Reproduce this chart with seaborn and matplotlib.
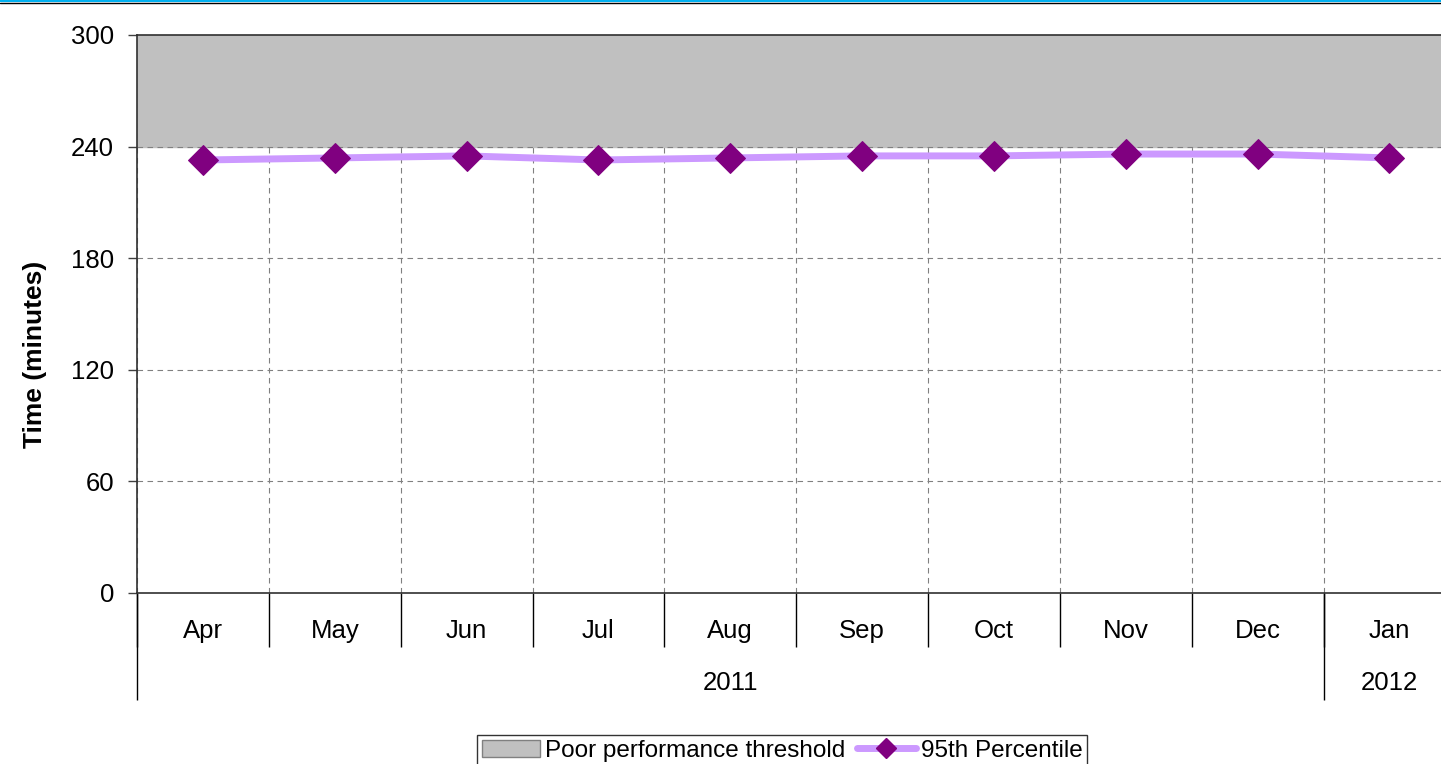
import numpy as np
import pandas as pd
import seaborn as sns
import matplotlib.pyplot as plt
from matplotlib.patches import Patch
from matplotlib.lines import Line2D

# dados
meses = ["Apr", "May", "Jun", "Jul", "Aug", "Sep", "Oct", "Nov", "Dec", "Jan"]
anos = ["2011", "2012"]
percentil_95 = [232.8, 233.9, 235.0, 232.8, 233.9, 235.0, 235.0, 236.0, 236.0, 233.9]
limite_inferior = 240
limite_superior = 300
y_ticks = [0, 60, 120, 180, 240, 300]

sns.set_style("white")
plt.rcParams['font.family'] = ['Liberation Sans', 'DejaVu Sans']
plt.rcParams['text.color'] = 'black'
plt.rcParams['axes.labelcolor'] = 'black'
plt.rcParams['xtick.color'] = 'black'
plt.rcParams['ytick.color'] = 'black'

df = pd.DataFrame({"pos": np.arange(len(meses)), "valor": percentil_95})

fig = plt.figure(figsize=(14.41, 7.64), dpi=100)
ax = fig.add_axes([137 / 1441, 1 - 593 / 764, 1 - 137 / 1441 + 0.01, 558 / 764])

# zona de mau desempenho
ax.axhspan(limite_inferior, limite_superior, color="#C0C0C0", zorder=1.5)

sns.lineplot(data=df, x="pos", y="valor", ax=ax, color="#CC99FF", linewidth=5,
             marker="D", markersize=15, markerfacecolor="#800080",
             markeredgecolor="#800080", zorder=3)

ax.set_xlim(-0.5, len(meses) - 0.5)
ax.set_ylim(0, 300)
ax.set_yticks(y_ticks)
ax.tick_params(axis="y", labelsize=18.5, length=6.5, width=1, color="#404040", pad=10, left=True)

# eixo x: meses
ax.set_xticks(np.arange(len(meses)), labels=meses)
ax.set_xticks(np.arange(-0.5, len(meses)), minor=True)
ax.tick_params(axis="x", which="major", length=0, labelsize=18.5, pad=19)
ax.tick_params(axis="x", which="minor", length=39, width=1, color="black", bottom=True)
ax.set_xlabel("")
ax.set_ylabel("Time (minutes)", fontsize=19, fontweight="bold")
ax.yaxis.set_label_coords(-0.068, 0.428)

# grelha
ax.grid(False)
for y in y_ticks[1:-1]:
    ax.axhline(y, color="#808080", linestyle=(0, (5, 4)), linewidth=0.8, zorder=2)
ax.grid(which="minor", axis="x", color="#808080", linestyle=(0, (5, 4)), linewidth=0.8)
ax.set_axisbelow(True)

for s in ["top", "left", "bottom"]:
    ax.spines[s].set_visible(True)
    ax.spines[s].set_color("#303030")
    ax.spines[s].set_linewidth(1.2)
ax.spines["right"].set_visible(False)

# eixo x: anos
sec = ax.secondary_xaxis("bottom")
sec.set_xticks([-0.5, 8.5])
sec.set_xticklabels(["", ""])
sec.set_xticks([4, 9], labels=anos, minor=True)
sec.tick_params(axis="x", which="major", length=77, width=1, color="black")
sec.tick_params(axis="x", which="minor", length=0, labelsize=18.5, pad=56)
sec.spines["bottom"].set_visible(False)

# legenda
handles = [
    Patch(facecolor="#C0C0C0", edgecolor="#808080", label="Poor performance threshold"),
    Line2D([0], [0], color="#CC99FF", linewidth=5, marker="D", markersize=10,
           markerfacecolor="#800080", markeredgecolor="#800080", label="95th Percentile"),
]
fig.legend(handles=handles, loc="upper center", bbox_to_anchor=(782 / 1441, 1 - 735 / 764),
           ncol=2, frameon=True, fancybox=False, edgecolor="black", fontsize=17.5,
           handlelength=2.4, handletextpad=0.2, columnspacing=0.5, borderpad=0.2,
           borderaxespad=0)

# linha no topo
fig.add_artist(Line2D([0, 1], [1 - 1 / 764, 1 - 1 / 764], color="#00B0F0", linewidth=1.5))
fig.add_artist(Line2D([0, 1], [1 - 2.5 / 764, 1 - 2.5 / 764], color="black", linewidth=1))

fig.savefig("out.png", dpi=100)
